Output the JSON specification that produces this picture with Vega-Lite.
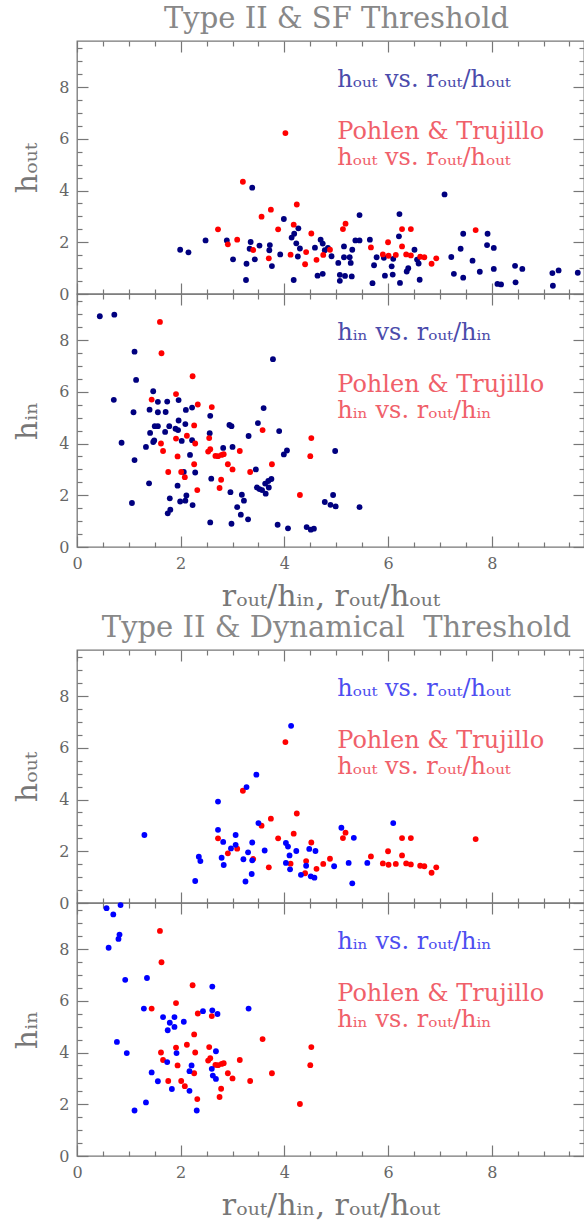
{
  "$schema": "https://vega.github.io/schema/vega-lite/v6.json",
  "padding": {"left": 12, "top": 4, "right": 0, "bottom": 0},
  "background": "white",
  "config": {
    "font": "DejaVu Serif",
    "view": {"stroke": "#777777", "strokeWidth": 1.3},
    "axis": {
      "domain": false, "grid": false, "tickColor": "#777777", "tickWidth": 1.2,
      "labelColor": "#666666", "labelFont": "DejaVu Serif", "labelFontSize": 16,
      "titleColor": "#777777", "titleFont": "DejaVu Serif", "titleFontSize": 30, "titleFontWeight": "normal",
      "labelFlush": false, "labelOverlap": false, "minExtent": 0, "format": "d"
    },
    "title": {"font": "DejaVu Serif", "fontSize": 29, "fontWeight": "normal", "color": "#888888", "anchor": "middle", "frame": "group"}
  },
  "datasets": {
    "sf_out": [
      {"x":1.99,"y":1.71},{"x":2.15,"y":1.61},{"x":2.48,"y":2.07},{"x":2.89,"y":2.07},{"x":3.01,"y":1.34},{"x":3.27,"y":1.17},{"x":3.26,"y":0.54},{"x":3.38,"y":4.11},{"x":3.35,"y":2.01},{"x":3.33,"y":1.75},{"x":3.43,"y":1.34},{"x":3.52,"y":1.87},{"x":3.72,"y":1.89},{"x":3.71,"y":1.69},{"x":3.76,"y":1.08},{"x":3.92,"y":1.53},{"x":3.99,"y":2.9},{"x":4.14,"y":2.18},{"x":4.19,"y":2.33},{"x":4.27,"y":2.54},{"x":4.23,"y":1.96},{"x":4.3,"y":1.76},{"x":4.26,"y":1.45},{"x":4.18,"y":0.54},{"x":4.64,"y":0.71},{"x":4.74,"y":0.78},{"x":4.59,"y":1.79},{"x":4.7,"y":2.1},{"x":4.74,"y":1.95},{"x":4.78,"y":1.69},{"x":4.84,"y":1.78},{"x":4.91,"y":1.46},{"x":5.04,"y":1.2},{"x":5.07,"y":0.51},{"x":5.07,"y":0.74},{"x":5.15,"y":1.84},{"x":5.15,"y":1.42},{"x":5.17,"y":0.7},{"x":5.26,"y":1.42},{"x":5.28,"y":1.2},{"x":5.3,"y":0.68},{"x":5.31,"y":1.71},{"x":5.37,"y":2.07},{"x":5.45,"y":2.07},{"x":5.45,"y":3.05},{"x":5.65,"y":2.1},{"x":5.7,"y":0.42},{"x":5.73,"y":1.11},{"x":5.78,"y":1.42},{"x":5.92,"y":1.4},{"x":5.94,"y":0.71},{"x":6.07,"y":1.07},{"x":6.09,"y":0.75},{"x":6.1,"y":1.36},{"x":6.22,"y":3.09},{"x":6.21,"y":2.23},{"x":6.23,"y":0.43},{"x":6.39,"y":1.0},{"x":6.36,"y":0.87},{"x":6.51,"y":1.71},{"x":6.56,"y":1.33},{"x":6.59,"y":1.18},{"x":6.61,"y":0.55},{"x":7.09,"y":3.85},{"x":7.22,"y":1.43},{"x":7.27,"y":0.78},{"x":7.4,"y":1.75},{"x":7.45,"y":0.63},{"x":7.45,"y":2.33},{"x":7.63,"y":1.29},{"x":7.77,"y":0.86},{"x":7.92,"y":2.33},{"x":7.91,"y":1.89},{"x":8.04,"y":1.78},{"x":8.04,"y":0.97},{"x":8.11,"y":0.39},{"x":8.18,"y":0.37},{"x":8.45,"y":1.09},{"x":8.46,"y":0.45},{"x":8.59,"y":0.97},{"x":9.17,"y":0.81},{"x":9.29,"y":0.91},{"x":9.18,"y":0.32},{"x":9.66,"y":0.82}
    ],
    "pt_out": [
      {"x":2.72,"y":2.5},{"x":2.91,"y":1.92},{"x":3.09,"y":2.1},{"x":3.2,"y":4.34},{"x":3.4,"y":1.7},{"x":3.56,"y":2.99},{"x":3.7,"y":1.38},{"x":3.74,"y":3.26},{"x":3.88,"y":2.5},{"x":4.02,"y":6.22},{"x":4.12,"y":1.52},{"x":4.18,"y":2.68},{"x":4.24,"y":3.46},{"x":4.42,"y":1.62},{"x":4.4,"y":1.15},{"x":4.52,"y":2.34},{"x":4.62,"y":1.32},{"x":4.75,"y":1.51},{"x":4.88,"y":1.71},{"x":5.13,"y":2.51},{"x":5.18,"y":2.72},{"x":5.67,"y":1.8},{"x":5.9,"y":1.53},{"x":6.0,"y":2.0},{"x":6.01,"y":1.48},{"x":6.15,"y":1.51},{"x":6.27,"y":2.51},{"x":6.27,"y":1.84},{"x":6.35,"y":1.53},{"x":6.44,"y":2.51},{"x":6.44,"y":1.49},{"x":6.62,"y":1.44},{"x":6.7,"y":1.42},{"x":6.84,"y":1.17},{"x":6.93,"y":1.38},{"x":7.69,"y":2.47}
    ],
    "sf_in": [
      {"x":0.44,"y":8.92},{"x":0.72,"y":8.98},{"x":0.71,"y":5.69},{"x":1.11,"y":7.55},{"x":1.14,"y":6.46},{"x":1.09,"y":5.21},{"x":0.86,"y":4.03},{"x":1.11,"y":3.36},{"x":1.06,"y":1.7},{"x":1.39,"y":2.46},{"x":1.33,"y":3.87},{"x":1.41,"y":4.41},{"x":1.47,"y":6.02},{"x":1.4,"y":5.31},{"x":1.49,"y":4.12},{"x":1.47,"y":4.06},{"x":1.5,"y":4.67},{"x":1.56,"y":4.67},{"x":1.56,"y":5.61},{"x":1.56,"y":5.21},{"x":1.71,"y":5.22},{"x":1.74,"y":5.62},{"x":1.7,"y":4.45},{"x":1.78,"y":4.67},{"x":1.9,"y":4.57},{"x":1.96,"y":5.68},{"x":1.96,"y":4.89},{"x":1.95,"y":4.52},{"x":2.02,"y":4.1},{"x":2.09,"y":4.75},{"x":2.1,"y":5.3},{"x":2.22,"y":5.39},{"x":2.22,"y":4.13},{"x":2.18,"y":3.56},{"x":2.28,"y":2.88},{"x":2.06,"y":2.9},{"x":1.94,"y":2.37},{"x":1.79,"y":1.88},{"x":1.8,"y":1.44},{"x":1.75,"y":1.3},{"x":1.99,"y":1.76},{"x":2.09,"y":1.79},{"x":2.11,"y":1.99},{"x":2.23,"y":1.62},{"x":2.57,"y":5.07},{"x":2.56,"y":4.4},{"x":2.59,"y":2.64},{"x":2.57,"y":0.95},{"x":2.82,"y":3.83},{"x":2.94,"y":4.72},{"x":2.98,"y":4.67},{"x":3.0,"y":3.87},{"x":2.96,"y":2.12},{"x":2.98,"y":0.9},{"x":3.09,"y":1.54},{"x":3.18,"y":2.02},{"x":3.22,"y":1.79},{"x":3.16,"y":1.25},{"x":3.3,"y":1.07},{"x":3.31,"y":4.29},{"x":3.45,"y":3.0},{"x":3.49,"y":4.79},{"x":3.47,"y":2.3},{"x":3.52,"y":2.24},{"x":3.57,"y":2.2},{"x":3.63,"y":2.45},{"x":3.69,"y":2.55},{"x":3.7,"y":2.3},{"x":3.64,"y":2.06},{"x":3.75,"y":2.63},{"x":3.6,"y":5.37},{"x":3.78,"y":7.26},{"x":3.87,"y":0.86},{"x":3.9,"y":4.48},{"x":3.99,"y":3.58},{"x":4.05,"y":3.73},{"x":4.07,"y":0.72},{"x":4.43,"y":0.77},{"x":4.51,"y":0.67},{"x":4.57,"y":0.71},{"x":4.78,"y":1.74},{"x":4.89,"y":1.63},{"x":4.99,"y":1.57},{"x":4.94,"y":2.01},{"x":4.98,"y":3.71},{"x":5.45,"y":1.54}
    ],
    "pt_in": [
      {"x":1.6,"y":8.7},{"x":1.63,"y":7.49},{"x":2.23,"y":6.6},{"x":1.91,"y":5.91},{"x":1.44,"y":5.7},{"x":2.33,"y":5.51},{"x":2.6,"y":5.41},{"x":2.26,"y":4.7},{"x":1.62,"y":4.0},{"x":1.66,"y":3.71},{"x":1.91,"y":4.19},{"x":1.94,"y":3.5},{"x":2.12,"y":4.3},{"x":2.28,"y":4.0},{"x":2.55,"y":4.21},{"x":2.57,"y":3.78},{"x":2.53,"y":3.69},{"x":2.67,"y":3.52},{"x":2.72,"y":3.51},{"x":2.79,"y":3.56},{"x":2.83,"y":3.59},{"x":2.91,"y":3.2},{"x":3.0,"y":3.0},{"x":3.14,"y":3.71},{"x":3.34,"y":2.9},{"x":3.76,"y":3.2},{"x":2.26,"y":3.2},{"x":1.76,"y":2.9},{"x":2.01,"y":2.9},{"x":2.08,"y":2.7},{"x":2.32,"y":2.2},{"x":2.78,"y":2.6},{"x":2.75,"y":2.28},{"x":3.58,"y":4.52},{"x":4.3,"y":2.01},{"x":4.52,"y":4.21},{"x":4.5,"y":3.51}
    ],
    "dyn_out": [
      {"x":1.3,"y":2.63},{"x":2.28,"y":0.85},{"x":2.35,"y":1.79},{"x":2.38,"y":1.62},{"x":2.72,"y":3.92},{"x":2.72,"y":2.83},{"x":2.79,"y":1.75},{"x":2.82,"y":2.36},{"x":2.83,"y":1.47},{"x":2.97,"y":2.11},{"x":3.06,"y":2.63},{"x":3.06,"y":2.25},{"x":3.21,"y":1.69},{"x":3.25,"y":0.83},{"x":3.27,"y":4.48},{"x":3.3,"y":1.96},{"x":3.37,"y":1.12},{"x":3.38,"y":2.34},{"x":3.38,"y":1.65},{"x":3.46,"y":4.96},{"x":3.5,"y":3.09},{"x":3.62,"y":2.03},{"x":4.03,"y":2.32},{"x":4.07,"y":2.18},{"x":4.03,"y":1.55},{"x":4.1,"y":1.84},{"x":4.11,"y":1.3},{"x":4.13,"y":6.85},{"x":4.23,"y":2.01},{"x":4.32,"y":1.09},{"x":4.42,"y":1.44},{"x":4.48,"y":2.09},{"x":4.51,"y":1.03},{"x":4.58,"y":0.98},{"x":4.6,"y":2.01},{"x":4.96,"y":1.42},{"x":5.1,"y":2.91},{"x":5.24,"y":1.55},{"x":5.31,"y":0.76},{"x":5.34,"y":2.52},{"x":5.6,"y":1.55},{"x":6.1,"y":3.09}
    ],
    "dyn_in": [
      {"x":0.57,"y":9.58},{"x":0.7,"y":9.34},{"x":0.84,"y":9.7},{"x":0.82,"y":8.56},{"x":0.8,"y":8.39},{"x":0.61,"y":8.05},{"x":0.93,"y":6.81},{"x":1.35,"y":6.88},{"x":1.29,"y":5.7},{"x":1.66,"y":5.37},{"x":1.75,"y":4.86},{"x":1.79,"y":5.15},{"x":1.88,"y":5.37},{"x":1.88,"y":4.99},{"x":2.06,"y":5.19},{"x":0.77,"y":4.41},{"x":0.96,"y":3.98},{"x":1.44,"y":3.23},{"x":1.56,"y":2.89},{"x":1.74,"y":3.63},{"x":1.83,"y":2.59},{"x":1.92,"y":3.98},{"x":2.21,"y":3.5},{"x":2.17,"y":3.28},{"x":2.17,"y":2.52},{"x":1.33,"y":2.07},{"x":1.11,"y":1.76},{"x":2.31,"y":1.76},{"x":2.43,"y":5.6},{"x":2.61,"y":6.55},{"x":2.61,"y":5.63},{"x":2.71,"y":5.49},{"x":2.6,"y":3.37},{"x":2.62,"y":3.11},{"x":2.68,"y":2.98},{"x":2.68,"y":4.05},{"x":3.31,"y":5.7}
    ],
    "notes": [
      {"panel":"p1","who":"own","x":5.02,"y":8.0,"text":"hₒᵤₜ vs. rₒᵤₜ/hₒᵤₜ"},
      {"panel":"p1","who":"pt","x":5.02,"y":6.0,"text":"Pohlen & Trujillo"},
      {"panel":"p1","who":"pt","x":5.02,"y":5.0,"text":"hₒᵤₜ vs. rₒᵤₜ/hₒᵤₜ"},
      {"panel":"p2","who":"own","x":5.02,"y":8.0,"text":"hᵢₙ vs. rₒᵤₜ/hᵢₙ"},
      {"panel":"p2","who":"pt","x":5.02,"y":6.0,"text":"Pohlen & Trujillo"},
      {"panel":"p2","who":"pt","x":5.02,"y":5.0,"text":"hᵢₙ vs. rₒᵤₜ/hᵢₙ"},
      {"panel":"p3","who":"own","x":5.02,"y":8.0,"text":"hₒᵤₜ vs. rₒᵤₜ/hₒᵤₜ"},
      {"panel":"p3","who":"pt","x":5.02,"y":6.0,"text":"Pohlen & Trujillo"},
      {"panel":"p3","who":"pt","x":5.02,"y":5.0,"text":"hₒᵤₜ vs. rₒᵤₜ/hₒᵤₜ"},
      {"panel":"p4","who":"own","x":5.02,"y":8.0,"text":"hᵢₙ vs. rₒᵤₜ/hᵢₙ"},
      {"panel":"p4","who":"pt","x":5.02,"y":6.0,"text":"Pohlen & Trujillo"},
      {"panel":"p4","who":"pt","x":5.02,"y":5.0,"text":"hᵢₙ vs. rₒᵤₜ/hᵢₙ"}
    ]
  },
  "spacing": 1,
  "vconcat": [
    {
      "bounds": "flush",
      "spacing": 0,
      "vconcat": [
        {
          "title": {"text": "Type II & SF Threshold", "offset": 6, "dx": 6},
          "width": 507, "height": 253,
          "resolve": {"axis": {"x": "independent", "y": "independent"}},
          "layer": [
            {"data": {"name": "sf_out"}, "mark": {"type": "circle", "size": 34, "opacity": 1, "color": "#00007f"},
             "encoding": {
               "x": {"field": "x", "type": "quantitative", "scale": {"domain": [0, 9.78], "nice": false, "zero": false},
                     "axis": {"orient": "bottom", "values": [0,2,4,6,8], "tickSize": -11, "labels": false, "title": null}},
               "y": {"field": "y", "type": "quantitative", "scale": {"domain": [0, 9.78], "nice": false, "zero": false},
                     "axis": {"orient": "left", "values": [0,2,4,6,8], "tickSize": -11, "labelPadding": 19, "title": "hₒᵤₜ", "titlePadding": 16}}
             }},
            {"data": {"name": "pt_out"}, "mark": {"type": "circle", "size": 34, "opacity": 1, "color": "#ff0000"},
             "encoding": {
               "x": {"field": "x", "type": "quantitative", "axis": {"orient": "top", "values": [0,2,4,6,8], "tickSize": -11, "labels": false, "title": null}},
               "y": {"field": "y", "type": "quantitative", "axis": {"orient": "right", "values": [0,2,4,6,8], "tickSize": -11, "labels": false, "title": null}}
             }},
            {"data": {"name": "notes"}, "transform": [{"filter": "datum.panel === 'p1' && datum.who === 'own'"}],
             "mark": {"type": "text", "align": "left", "baseline": "alphabetic", "fontSize": 24, "color": "#4b4bab"},
             "encoding": {
               "x": {"field": "x", "type": "quantitative", "axis": {"orient": "bottom", "values": [0.5,1,1.5,2.5,3,3.5,4.5,5,5.5,6.5,7,7.5,8.5,9,9.5], "tickSize": -5, "labels": false, "title": null}},
               "y": {"field": "y", "type": "quantitative", "axis": {"orient": "left", "values": [0.5,1,1.5,2.5,3,3.5,4.5,5,5.5,6.5,7,7.5,8.5,9,9.5], "tickSize": -5, "labels": false, "title": null}},
               "text": {"field": "text"}}},
            {"data": {"name": "notes"}, "transform": [{"filter": "datum.panel === 'p1' && datum.who === 'pt'"}],
             "mark": {"type": "text", "align": "left", "baseline": "alphabetic", "fontSize": 24, "color": "#f0606a"},
             "encoding": {
               "x": {"field": "x", "type": "quantitative", "axis": {"orient": "top", "values": [0.5,1,1.5,2.5,3,3.5,4.5,5,5.5,6.5,7,7.5,8.5,9,9.5], "tickSize": -5, "labels": false, "title": null}},
               "y": {"field": "y", "type": "quantitative", "axis": {"orient": "right", "values": [0.5,1,1.5,2.5,3,3.5,4.5,5,5.5,6.5,7,7.5,8.5,9,9.5], "tickSize": -5, "labels": false, "title": null}},
               "text": {"field": "text"}}}
          ]
        },
        {
          "width": 507, "height": 253,
          "resolve": {"axis": {"x": "independent", "y": "independent"}},
          "layer": [
            {"data": {"name": "sf_in"}, "mark": {"type": "circle", "size": 34, "opacity": 1, "color": "#00007f"},
             "encoding": {
               "x": {"field": "x", "type": "quantitative", "scale": {"domain": [0, 9.78], "nice": false, "zero": false},
                     "axis": {"orient": "bottom", "values": [0,2,4,6,8], "tickSize": -11, "labelPadding": 19, "title": "rₒᵤₜ/hᵢₙ, rₒᵤₜ/hₒᵤₜ", "titlePadding": 10}},
               "y": {"field": "y", "type": "quantitative", "scale": {"domain": [0, 9.78], "nice": false, "zero": false},
                     "axis": {"orient": "left", "values": [0,2,4,6,8], "tickSize": -11, "labelPadding": 19, "title": "hᵢₙ", "titlePadding": 16}}
             }},
            {"data": {"name": "pt_in"}, "mark": {"type": "circle", "size": 34, "opacity": 1, "color": "#ff0000"},
             "encoding": {
               "x": {"field": "x", "type": "quantitative", "axis": {"orient": "top", "values": [0,2,4,6,8], "tickSize": -11, "labels": false, "title": null}},
               "y": {"field": "y", "type": "quantitative", "axis": {"orient": "right", "values": [0,2,4,6,8], "tickSize": -11, "labels": false, "title": null}}
             }},
            {"data": {"name": "notes"}, "transform": [{"filter": "datum.panel === 'p2' && datum.who === 'own'"}],
             "mark": {"type": "text", "align": "left", "baseline": "alphabetic", "fontSize": 24, "color": "#4b4bab"},
             "encoding": {
               "x": {"field": "x", "type": "quantitative", "axis": {"orient": "bottom", "values": [0.5,1,1.5,2.5,3,3.5,4.5,5,5.5,6.5,7,7.5,8.5,9,9.5], "tickSize": -5, "labels": false, "title": null}},
               "y": {"field": "y", "type": "quantitative", "axis": {"orient": "left", "values": [0.5,1,1.5,2.5,3,3.5,4.5,5,5.5,6.5,7,7.5,8.5,9,9.5], "tickSize": -5, "labels": false, "title": null}},
               "text": {"field": "text"}}},
            {"data": {"name": "notes"}, "transform": [{"filter": "datum.panel === 'p2' && datum.who === 'pt'"}],
             "mark": {"type": "text", "align": "left", "baseline": "alphabetic", "fontSize": 24, "color": "#f0606a"},
             "encoding": {
               "x": {"field": "x", "type": "quantitative", "axis": {"orient": "top", "values": [0.5,1,1.5,2.5,3,3.5,4.5,5,5.5,6.5,7,7.5,8.5,9,9.5], "tickSize": -5, "labels": false, "title": null}},
               "y": {"field": "y", "type": "quantitative", "axis": {"orient": "right", "values": [0.5,1,1.5,2.5,3,3.5,4.5,5,5.5,6.5,7,7.5,8.5,9,9.5], "tickSize": -5, "labels": false, "title": null}},
               "text": {"field": "text"}}}
          ]
        }
      ]
    },
    {
      "bounds": "flush",
      "spacing": 0,
      "vconcat": [
        {
          "title": {"text": "Type II & Dynamical\u00a0 Threshold", "offset": 6, "dx": 6},
          "width": 507, "height": 253,
          "resolve": {"axis": {"x": "independent", "y": "independent"}},
          "layer": [
            {"data": {"name": "pt_out"}, "mark": {"type": "circle", "size": 34, "opacity": 1, "color": "#ff0000"},
             "encoding": {
               "x": {"field": "x", "type": "quantitative", "scale": {"domain": [0, 9.78], "nice": false, "zero": false},
                     "axis": {"orient": "top", "values": [0,2,4,6,8], "tickSize": -11, "labels": false, "title": null}},
               "y": {"field": "y", "type": "quantitative", "scale": {"domain": [0, 9.78], "nice": false, "zero": false},
                     "axis": {"orient": "right", "values": [0,2,4,6,8], "tickSize": -11, "labels": false, "title": null}}
             }},
            {"data": {"name": "dyn_out"}, "mark": {"type": "circle", "size": 34, "opacity": 1, "color": "#0000ff"},
             "encoding": {
               "x": {"field": "x", "type": "quantitative", "axis": {"orient": "bottom", "values": [0,2,4,6,8], "tickSize": -11, "labels": false, "title": null}},
               "y": {"field": "y", "type": "quantitative", "axis": {"orient": "left", "values": [0,2,4,6,8], "tickSize": -11, "labelPadding": 19, "title": "hₒᵤₜ", "titlePadding": 16}}
             }},
            {"data": {"name": "notes"}, "transform": [{"filter": "datum.panel === 'p3' && datum.who === 'own'"}],
             "mark": {"type": "text", "align": "left", "baseline": "alphabetic", "fontSize": 24, "color": "#4d4df0"},
             "encoding": {
               "x": {"field": "x", "type": "quantitative", "axis": {"orient": "bottom", "values": [0.5,1,1.5,2.5,3,3.5,4.5,5,5.5,6.5,7,7.5,8.5,9,9.5], "tickSize": -5, "labels": false, "title": null}},
               "y": {"field": "y", "type": "quantitative", "axis": {"orient": "left", "values": [0.5,1,1.5,2.5,3,3.5,4.5,5,5.5,6.5,7,7.5,8.5,9,9.5], "tickSize": -5, "labels": false, "title": null}},
               "text": {"field": "text"}}},
            {"data": {"name": "notes"}, "transform": [{"filter": "datum.panel === 'p3' && datum.who === 'pt'"}],
             "mark": {"type": "text", "align": "left", "baseline": "alphabetic", "fontSize": 24, "color": "#f0606a"},
             "encoding": {
               "x": {"field": "x", "type": "quantitative", "axis": {"orient": "top", "values": [0.5,1,1.5,2.5,3,3.5,4.5,5,5.5,6.5,7,7.5,8.5,9,9.5], "tickSize": -5, "labels": false, "title": null}},
               "y": {"field": "y", "type": "quantitative", "axis": {"orient": "right", "values": [0.5,1,1.5,2.5,3,3.5,4.5,5,5.5,6.5,7,7.5,8.5,9,9.5], "tickSize": -5, "labels": false, "title": null}},
               "text": {"field": "text"}}}
          ]
        },
        {
          "width": 507, "height": 253,
          "resolve": {"axis": {"x": "independent", "y": "independent"}},
          "layer": [
            {"data": {"name": "pt_in"}, "mark": {"type": "circle", "size": 34, "opacity": 1, "color": "#ff0000"},
             "encoding": {
               "x": {"field": "x", "type": "quantitative", "scale": {"domain": [0, 9.78], "nice": false, "zero": false},
                     "axis": {"orient": "top", "values": [0,2,4,6,8], "tickSize": -11, "labels": false, "title": null}},
               "y": {"field": "y", "type": "quantitative", "scale": {"domain": [0, 9.78], "nice": false, "zero": false},
                     "axis": {"orient": "right", "values": [0,2,4,6,8], "tickSize": -11, "labels": false, "title": null}}
             }},
            {"data": {"name": "dyn_in"}, "mark": {"type": "circle", "size": 34, "opacity": 1, "color": "#0000ff"},
             "encoding": {
               "x": {"field": "x", "type": "quantitative", "axis": {"orient": "bottom", "values": [0,2,4,6,8], "tickSize": -11, "labelPadding": 19, "title": "rₒᵤₜ/hᵢₙ, rₒᵤₜ/hₒᵤₜ", "titlePadding": 10}},
               "y": {"field": "y", "type": "quantitative", "axis": {"orient": "left", "values": [0,2,4,6,8], "tickSize": -11, "labelPadding": 19, "title": "hᵢₙ", "titlePadding": 16}}
             }},
            {"data": {"name": "notes"}, "transform": [{"filter": "datum.panel === 'p4' && datum.who === 'own'"}],
             "mark": {"type": "text", "align": "left", "baseline": "alphabetic", "fontSize": 24, "color": "#4d4df0"},
             "encoding": {
               "x": {"field": "x", "type": "quantitative", "axis": {"orient": "bottom", "values": [0.5,1,1.5,2.5,3,3.5,4.5,5,5.5,6.5,7,7.5,8.5,9,9.5], "tickSize": -5, "labels": false, "title": null}},
               "y": {"field": "y", "type": "quantitative", "axis": {"orient": "left", "values": [0.5,1,1.5,2.5,3,3.5,4.5,5,5.5,6.5,7,7.5,8.5,9,9.5], "tickSize": -5, "labels": false, "title": null}},
               "text": {"field": "text"}}},
            {"data": {"name": "notes"}, "transform": [{"filter": "datum.panel === 'p4' && datum.who === 'pt'"}],
             "mark": {"type": "text", "align": "left", "baseline": "alphabetic", "fontSize": 24, "color": "#f0606a"},
             "encoding": {
               "x": {"field": "x", "type": "quantitative", "axis": {"orient": "top", "values": [0.5,1,1.5,2.5,3,3.5,4.5,5,5.5,6.5,7,7.5,8.5,9,9.5], "tickSize": -5, "labels": false, "title": null}},
               "y": {"field": "y", "type": "quantitative", "axis": {"orient": "right", "values": [0.5,1,1.5,2.5,3,3.5,4.5,5,5.5,6.5,7,7.5,8.5,9,9.5], "tickSize": -5, "labels": false, "title": null}},
               "text": {"field": "text"}}}
          ]
        }
      ]
    }
  ]
}
